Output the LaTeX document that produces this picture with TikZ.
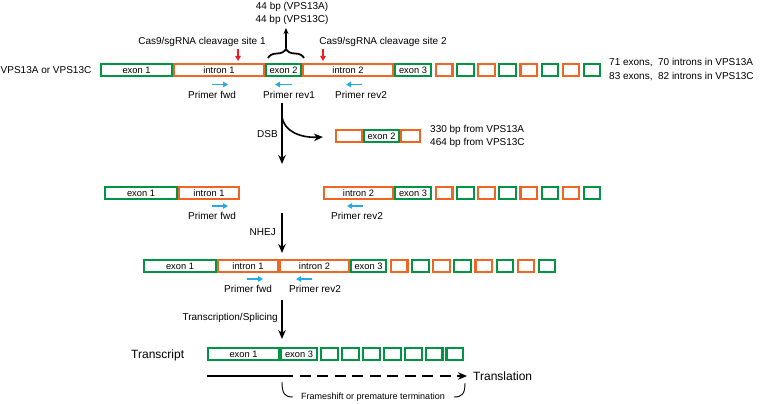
\documentclass[tikz,border=0pt]{standalone}
\usepackage{fontspec}
\setmainfont{Liberation Sans}
\usetikzlibrary{arrows.meta,decorations.pathreplacing}
\definecolor{cgreen}{RGB}{0,148,68}
\definecolor{corange}{RGB}{241,101,34}
\definecolor{cblue}{RGB}{39,170,225}
\definecolor{cred}{RGB}{237,28,36}
% box from outer edge x1 to x2, centred at y
\newcommand\bx[6]{%
  \pgfmathsetmacro\bxc{(#3+#4)/2}%
  \pgfmathsetmacro\bxw{#4-#3-2.1}%
  \node[#1, minimum width=\bxw pt] (#2) at (\bxc,#5) {#6};}
\begin{document}
\begin{tikzpicture}[x=1pt,y=-1pt, font=\fontsize{10}{12}\selectfont,
  boxbase/.style={rectangle, line width=2.1pt, minimum height=11.9pt, inner sep=0pt, outer sep=0pt, font=\fontsize{9.3}{10}\selectfont},
  gbx/.style={boxbase, draw=cgreen},
  obx/.style={boxbase, draw=corange},
  primer/.style={draw=cblue, line width=1.7pt, -{Triangle[length=5pt,width=5.5pt]}},
  cut/.style={draw=cred, line width=1.5pt, -{Triangle[length=5pt,width=5.5pt]}},
  flow/.style={draw=black, line width=1.6pt, -{Stealth[length=9pt,width=7.5pt]}},
  lbl/.style={inner sep=0pt},
  big/.style={inner sep=0pt, font=\fontsize{12}{14}\selectfont},
]
\useasboundingbox (0,0) rectangle (760,404);

% ---------- row 1 ----------
\node[lbl, anchor=west] (gene) at (0.5,70.5) {VPS13A or VPS13C};
\bx{gbx}{r1e1}{100}{173}{70}{exon 1}
\bx{obx}{r1i1}{173}{265}{70}{intron 1}
\bx{gbx}{r1e2}{265}{302}{70}{exon 2}
\bx{obx}{r1i2}{302}{394}{70}{intron 2}
\bx{gbx}{r1e3}{394}{432}{70}{exon 3}
\foreach \k in {0,...,7}{%
  \pgfmathsetmacro\xa{435+21.1*\k}\pgfmathsetmacro\xb{\xa+18.5}%
  \pgfmathparse{mod(\k,2)==0?"obx":"gbx"}\edef\st{\pgfmathresult}%
  \bx{\st}{r1s\k}{\xa}{\xb}{70}{}}
\node[lbl, anchor=west, align=left, font=\fontsize{10}{14}\selectfont] (counts) at (609,70)
  {71 exons,\ \ 70 introns in VPS13A\\83 exons,\ \ 82 introns in VPS13C};

\node[lbl] (site1) at (202,42) {Cas9/sgRNA cleavage site 1};
\node[lbl] (site2) at (383,42) {Cas9/sgRNA cleavage site 2};
\coordinate (c1a) at (238,49); \coordinate (c1b) at (238,61);
\coordinate (c2a) at (323,49); \coordinate (c2b) at (323,61);
\draw[cut] (c1a) -- (c1b);
\draw[cut] (c2a) -- (c2b);

\coordinate (brL) at (268,58); \coordinate (brR) at (304,58);
\draw[line width=1.8pt, decorate, decoration={brace, amplitude=9pt}] (brL) -- (brR);
\node[lbl, align=center, font=\fontsize{10}{13}\selectfont] (bp44) at (292,13.5) {44 bp (VPS13A)\\44 bp (VPS13C)};
\coordinate (brTip) at (286,48); \coordinate (upTip) at (286,28);
\draw[line width=1.5pt, -{Stealth[length=6pt,width=5pt]}] (brTip) -- (upTip);

\coordinate (p1a) at (212,84.5); \coordinate (p1b) at (228,84.5);
\coordinate (p2a) at (292,84.5); \coordinate (p2b) at (275,84.5);
\coordinate (p3a) at (362,84.5); \coordinate (p3b) at (346,84.5);
\draw[primer] (p1a) -- (p1b);
\draw[primer] (p2a) -- (p2b);
\draw[primer] (p3a) -- (p3b);
\node[lbl] (pf1) at (212,95) {Primer fwd};
\node[lbl] (pr1) at (289,95) {Primer rev1};
\node[lbl] (pr2) at (361,95) {Primer rev2};

% ---------- DSB ----------
\coordinate (dsbA) at (282,103); \coordinate (dsbB) at (282,164);
\draw[flow] (dsbA) -- (dsbB);
\node[lbl, anchor=east] (dsb) at (278,134) {DSB};
\coordinate (cvA) at (282,117); \coordinate (cvB) at (323,137);
\draw[line width=1.6pt, -{Stealth[length=9pt,width=7.5pt]}] (cvA) .. controls (284,131) and (300,138) .. (cvB);
\bx{obx}{fo1}{335}{363}{136}{}
\bx{gbx}{fe2}{363}{400}{136}{exon 2}
\bx{obx}{fo2}{400}{421}{136}{}
\node[lbl, anchor=west, align=left, font=\fontsize{10}{13.5}\selectfont] (frag) at (430,136.5)
  {330 bp from VPS13A\\464 bp from VPS13C};

% ---------- row 2 ----------
\bx{gbx}{r2e1}{104}{178}{193}{exon 1}
\bx{obx}{r2i1}{178}{240}{193}{intron 1}
\bx{obx}{r2i2}{323}{394}{193}{intron 2}
\bx{gbx}{r2e3}{394}{432}{193}{exon 3}
\foreach \k in {0,...,7}{%
  \pgfmathsetmacro\xa{435+21.1*\k}\pgfmathsetmacro\xb{\xa+18.5}%
  \pgfmathparse{mod(\k,2)==0?"obx":"gbx"}\edef\st{\pgfmathresult}%
  \bx{\st}{r2s\k}{\xa}{\xb}{193}{}}
\coordinate (q1a) at (212,206); \coordinate (q1b) at (228,206);
\coordinate (q2a) at (363,206); \coordinate (q2b) at (347,206);
\draw[primer] (q1a) -- (q1b);
\draw[primer] (q2a) -- (q2b);
\node[lbl] (pf2) at (212,215.5) {Primer fwd};
\node[lbl] (pr22) at (357,215.5) {Primer rev2};

% ---------- NHEJ ----------
\coordinate (nhA) at (282,213); \coordinate (nhB) at (282,253);
\draw[flow] (nhA) -- (nhB);
\node[lbl, anchor=east] (nhej) at (276,232) {NHEJ};

% ---------- row 3 ----------
\bx{gbx}{r3e1}{143}{217}{266}{exon 1}
\bx{obx}{r3i1}{217}{279}{266}{intron 1}
\bx{obx}{r3i2}{279}{350}{266}{intron 2}
\bx{gbx}{r3e3}{350}{387}{266}{exon 3}
\foreach \k in {0,...,7}{%
  \pgfmathsetmacro\xa{390+21.1*\k}\pgfmathsetmacro\xb{\xa+18.5}%
  \pgfmathparse{mod(\k,2)==0?"obx":"gbx"}\edef\st{\pgfmathresult}%
  \bx{\st}{r3s\k}{\xa}{\xb}{266}{}}
\coordinate (s1a) at (247,279); \coordinate (s1b) at (263,279);
\coordinate (s2a) at (312,279); \coordinate (s2b) at (296,279);
\draw[primer] (s1a) -- (s1b);
\draw[primer] (s2a) -- (s2b);
\node[lbl] (pf3) at (248,288.5) {Primer fwd};
\node[lbl] (pr3) at (315,288.5) {Primer rev2};

% ---------- transcription ----------
\coordinate (trA) at (282,300); \coordinate (trB) at (282,339);
\draw[flow] (trA) -- (trB);
\node[lbl, anchor=east] (trs) at (278,318) {Transcription/Splicing};

\node[big, anchor=west] (tlab) at (131,355) {Transcript};
\bx{gbx}{t1}{207}{280}{354}{exon 1}
\bx{gbx}{t3}{280}{318}{354}{exon 3}
\foreach \k in {0,...,6}{%
  \pgfmathsetmacro\xa{320+20.9*\k}\pgfmathsetmacro\xb{\xa+19}%
  \bx{gbx}{ts\k}{\xa}{\xb}{354}{}}

\coordinate (tl0) at (207,376); \coordinate (tl1) at (282,376); \coordinate (tl2) at (467,376);
\draw[line width=1.8pt] (tl0) -- (tl1);
\draw[line width=1.8pt, dash pattern=on 11pt off 6.5pt, -{Stealth[length=9pt,width=7.5pt]}] (tl1) -- (tl2);
\node[big, anchor=west] (transl) at (473,376) {Translation};

\coordinate (bkL0) at (282,382); \coordinate (bkL1) at (293,397);
\coordinate (bkR0) at (465,383); \coordinate (bkR1) at (454,397);
\draw[line width=0.9pt] (bkL0) .. controls (282,394) and (285,397) .. (bkL1);
\draw[line width=0.9pt] (bkR0) .. controls (465,394) and (462,397) .. (bkR1);
\node[lbl, font=\fontsize{9}{10}\selectfont] (fs) at (373,397.5) {Frameshift or premature termination};
\end{tikzpicture}
\end{document}
